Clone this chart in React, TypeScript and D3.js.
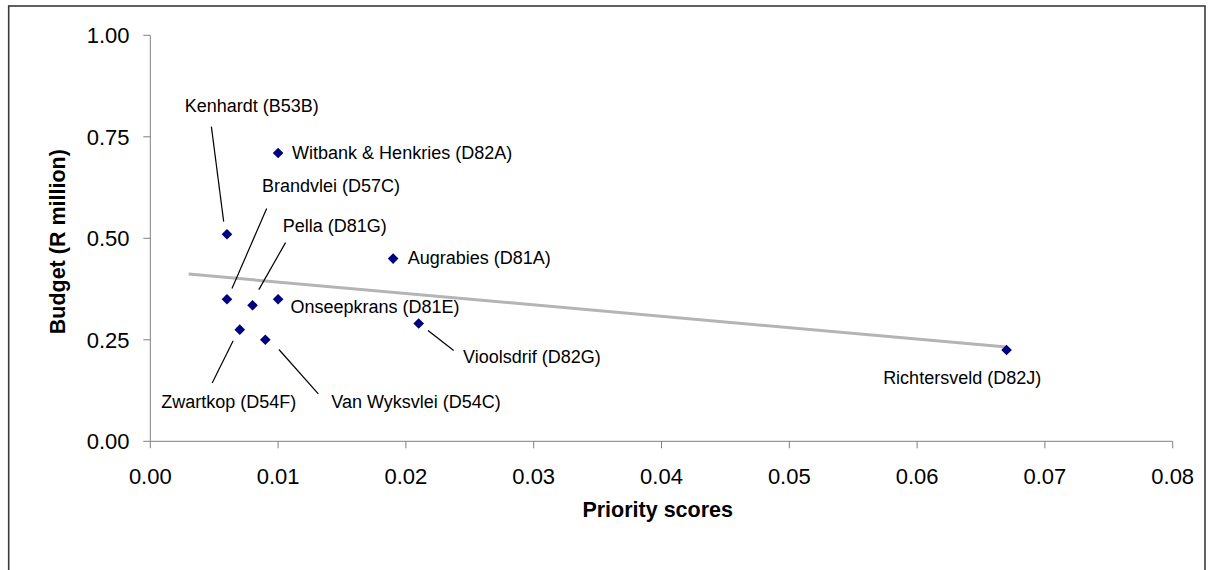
import React from "react";
import * as d3 from "d3";

// ---- Data ----
const sites = [
  "Kenhardt (B53B)",
  "Witbank & Henkries (D82A)",
  "Brandvlei (D57C)",
  "Pella (D81G)",
  "Augrabies (D81A)",
  "Onseepkrans (D81E)",
  "Zwartkop (D54F)",
  "Van Wyksvlei (D54C)",
  "Vioolsdrif (D82G)",
  "Richtersveld (D82J)",
];
const priorityScores = [0.006, 0.01, 0.006, 0.008, 0.019, 0.01, 0.007, 0.009, 0.021, 0.067];
const budgets = [0.51, 0.71, 0.35, 0.335, 0.45, 0.35, 0.275, 0.25, 0.29, 0.225];
const xTicks = [0, 0.01, 0.02, 0.03, 0.04, 0.05, 0.06, 0.07, 0.08];
const yTicks = [0, 0.25, 0.5, 0.75, 1.0];
const trendBackward = 0.003; // trendline extended backward by this amount

// ---- Label layout (offsets from each point, in px) ----
type Lay = { dx: number; dy: number; anchor: string; leader?: [number, number, number, number] };
const labelLayout: Lay[] = [
  { dx: -42.3, dy: -122, anchor: "start", leader: [-15.6, -107.6, -3.3, -12.6] },
  { dx: 14, dy: 5.6, anchor: "start" },
  { dx: 35, dy: -107.3, anchor: "start", leader: [39.7, -90.7, 5, -10.7] },
  { dx: 30.3, dy: -73.3, anchor: "start", leader: [33, -62.7, 6.3, -15.7] },
  { dx: 14.6, dy: 5.3, anchor: "start" },
  { dx: 12.4, dy: 14, anchor: "start" },
  { dx: -78.6, dy: 78.3, anchor: "start", leader: [-6.6, 11, -27.6, 53.3] },
  { dx: 66, dy: 68, anchor: "start", leader: [13.6, 9.7, 53, 54] },
  { dx: 44.3, dy: 39, anchor: "start", leader: [9.3, 7, 35, 27] },
  { dx: -44.4, dy: 34, anchor: "middle" },
];

const W = 1209;
const H = 570;
const plot = { left: 150.3, right: 1172.7, top: 35.3, bottom: 441.3 };
const FONT = "'Liberation Sans', Arial, sans-serif";

export default function App() {
  const x = d3.scaleLinear().domain([0, 0.08]).range([plot.left, plot.right]);
  const y = d3.scaleLinear().domain([0, 1]).range([plot.bottom, plot.top]);

  // Linear regression trendline
  const mx = d3.mean(priorityScores)!;
  const my = d3.mean(budgets)!;
  let sxy = 0, sxx = 0;
  priorityScores.forEach((v, i) => {
    sxy += (v - mx) * (budgets[i] - my);
    sxx += (v - mx) * (v - mx);
  });
  const slope = sxy / sxx;
  const intercept = my - slope * mx;
  const tx0 = d3.min(priorityScores)! - trendBackward;
  const tx1 = d3.max(priorityScores)!;
  const trendPath = d3.line<number>()
    .x((v) => x(v))
    .y((v) => y(intercept + slope * v))([tx0, tx1]);

  const diamond = d3.symbol().type(d3.symbolDiamond2).size(72)();

  return (
    <svg
      width={W}
      height={H}
      style={{ position: "absolute", left: 0, top: 0, background: "#fff" }}
      fontFamily={FONT}
    >
      <rect x={0} y={0} width={W} height={H} fill="#fff" />
      <rect x={8.7} y={6} width={1196.3} height={620} fill="none" stroke="#3a3a3a" strokeWidth={1.6} />

      {/* Y axis */}
      <line x1={plot.left} x2={plot.left} y1={plot.top} y2={plot.bottom} stroke="#808080" strokeWidth={1} />
      {yTicks.map((t) => (
        <g key={"y" + t}>
          <line x1={plot.left - 7} x2={plot.left} y1={y(t)} y2={y(t)} stroke="#808080" strokeWidth={1} />
          <text x={129.5} y={y(t) + 7.8} textAnchor="end" fontSize={22} fill="#000">
            {d3.format(".2f")(t)}
          </text>
        </g>
      ))}

      {/* X axis */}
      <line x1={plot.left} x2={plot.right} y1={plot.bottom} y2={plot.bottom} stroke="#808080" strokeWidth={1} />
      {xTicks.map((t) => (
        <g key={"x" + t}>
          <line x1={x(t)} x2={x(t)} y1={plot.bottom} y2={plot.bottom + 7} stroke="#808080" strokeWidth={1} />
          <text x={x(t)} y={484} textAnchor="middle" fontSize={22} fill="#000">
            {d3.format(".2f")(t)}
          </text>
        </g>
      ))}

      {/* Axis titles */}
      <text x={657.7} y={517} textAnchor="middle" fontSize={21.5} fontWeight="bold">
        Priority scores
      </text>
      <text
        transform={`translate(64.5,241.7) rotate(-90)`}
        textAnchor="middle"
        fontSize={21.5}
        fontWeight="bold"
      >
        Budget (R million)
      </text>

      {/* Trendline */}
      <path d={trendPath!} fill="none" stroke="#b4b4b4" strokeWidth={3} />

      {/* Leader lines */}
      {labelLayout.map((l, i) =>
        l.leader ? (
          <line
            key={"ld" + i}
            x1={x(priorityScores[i]) + l.leader[0]}
            y1={y(budgets[i]) + l.leader[1]}
            x2={x(priorityScores[i]) + l.leader[2]}
            y2={y(budgets[i]) + l.leader[3]}
            stroke="#000"
            strokeWidth={1.2}
          />
        ) : null
      )}

      {/* Points */}
      {priorityScores.map((v, i) => (
        <path
          key={"p" + i}
          d={diamond!}
          transform={`translate(${x(v)},${y(budgets[i])})`}
          fill="#000080"
        />
      ))}

      {/* Labels */}
      {sites.map((s, i) => (
        <text
          key={"l" + i}
          x={x(priorityScores[i]) + labelLayout[i].dx}
          y={y(budgets[i]) + labelLayout[i].dy}
          textAnchor={labelLayout[i].anchor as any}
          fontSize={18}
          fill="#000"
        >
          {s}
        </text>
      ))}
    </svg>
  );
}
